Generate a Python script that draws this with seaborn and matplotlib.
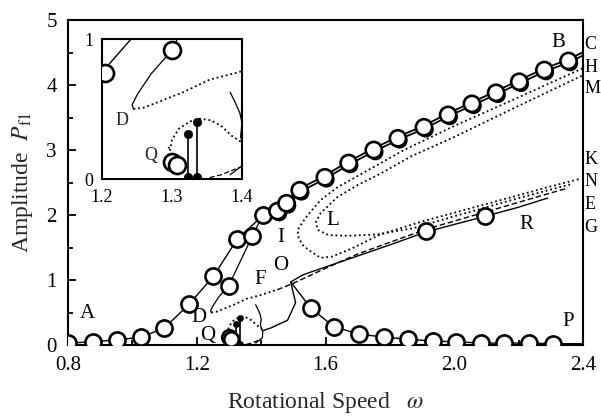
import numpy as np
import pandas as pd
import matplotlib
matplotlib.use("Agg")
import matplotlib.pyplot as plt
import matplotlib.patheffects as pe
from matplotlib.ticker import MultipleLocator, FixedLocator
import seaborn as sns

# ---------------- data: rotational speed (omega) vs amplitude P_f1 ----------------
# resonance branch starting at A (open circles)
a_w = [0.80, 0.878, 0.953, 1.027, 1.099, 1.177, 1.252, 1.326, 1.407]
a_y = [0.03, 0.05, 0.08, 0.12, 0.26, 0.63, 1.06, 1.63, 2.00]
# branch rising from the turning point D
d_line_w = [1.245, 1.243, 1.25, 1.27, 1.30, 1.373, 1.395, 1.407]
d_line_y = [0.50, 0.53, 0.60, 0.75, 0.92, 1.68, 1.90, 2.00]
d_circ_w = [1.30, 1.373]
d_circ_y = [0.91, 1.68]
# upper branch towards B (line C)
b_w = [1.451, 1.479, 1.52, 1.598, 1.672, 1.75, 1.825, 1.906, 1.981, 2.055, 2.13, 2.202, 2.28, 2.355]
b_y = [2.06, 2.18, 2.38, 2.58, 2.80, 3.00, 3.18, 3.35, 3.54, 3.71, 3.88, 4.05, 4.23, 4.37]
c_w = [1.407] + b_w + [2.40]
c_y = [2.00] + b_y + [4.48]
# curve through turning point I: from K (lower) to H (upper)
i_w = [2.386, 2.30, 2.10, 1.90, 1.77, 1.68, 1.62, 1.585, 1.56, 1.532, 1.517, 1.513, 1.529, 1.545, 1.585,
       1.638, 1.70, 1.772, 1.844, 2.00, 2.20, 2.40]
i_y = [2.55, 2.44, 2.17, 1.90, 1.70, 1.48, 1.36, 1.34, 1.42, 1.52, 1.64, 1.77, 1.89, 2.00, 2.23,
       2.43, 2.60, 2.80, 3.00, 3.37, 3.81, 4.26]
# curve through turning point L: from N (lower) to M (upper)
l_w = [2.36, 2.20, 2.00, 1.875, 1.76, 1.669, 1.61, 1.576, 1.57, 1.585, 1.638, 1.70, 1.772, 1.865,
       2.00, 2.20, 2.40]
l_y = [2.47, 2.26, 1.98, 1.80, 1.70, 1.68, 1.69, 1.77, 1.89, 2.03, 2.28, 2.46, 2.64, 2.90,
       3.20, 3.68, 4.15]
# curve from D through F towards E
e_w = [1.245, 1.26, 1.316, 1.354, 1.393, 1.45, 1.50, 1.60, 1.70, 1.80, 1.912, 2.10, 2.30, 2.35]
e_y = [0.50, 0.51, 0.62, 0.71, 0.76, 0.85, 0.95, 1.18, 1.40, 1.58, 1.78, 2.05, 2.34, 2.41]
# curve rising from the cusp through O towards G, with circles R
g_w = [1.405, 1.429, 1.482, 1.507, 1.492, 1.53, 1.60, 1.70, 1.80, 1.912, 2.096, 2.20, 2.29]
g_y = [0.22, 0.26, 0.38, 0.65, 0.97, 1.08, 1.20, 1.37, 1.54, 1.74, 1.98, 2.12, 2.26]
r_w = [1.912, 2.096]
r_y = [1.75, 1.98]
# decaying branch towards P
p_line_w = [1.492, 1.554, 1.626, 1.703, 1.781, 1.856, 1.934, 2.006, 2.083, 2.155, 2.233, 2.308, 2.40]
p_line_y = [0.97, 0.57, 0.28, 0.17, 0.12, 0.09, 0.06, 0.05, 0.03, 0.03, 0.03, 0.02, 0.02]
p_w = [1.554, 1.626, 1.703, 1.781, 1.856, 1.934, 2.006, 2.083, 2.155, 2.233, 2.308]
p_y = [0.57, 0.28, 0.17, 0.12, 0.09, 0.06, 0.05, 0.03, 0.03, 0.03, 0.02]
# solid loop below F
s_w = [1.383, 1.39, 1.397, 1.40, 1.398, 1.405, 1.404, 1.383]
s_y = [0.62, 0.55, 0.47, 0.40, 0.30, 0.20, 0.11, 0.03]
# dotted curve around Q
q_w = [1.295, 1.297, 1.30, 1.31, 1.325, 1.34, 1.355, 1.37, 1.385, 1.40, 1.405]
q_y = [0.23, 0.20, 0.28, 0.36, 0.41, 0.43, 0.42, 0.38, 0.31, 0.26, 0.22]
q_circ_w = [1.30, 1.307]
q_circ_y = [0.12, 0.10]
# dashed piece near the baseline
z_w = [1.354, 1.37, 1.39, 1.40]
z_y = [0.01, 0.03, 0.07, 0.09]
# peak amplitudes marked by filled dots on stems
stem_w = [1.323, 1.335]
stem_y = [0.32, 0.41]
# circles shown in the enlarged view
ins_circ_w = [1.204, 1.30, 1.30, 1.307]
ins_circ_y = [0.76, 0.92, 0.12, 0.10]

x_ticks = [0.8, 1.2, 1.6, 2.0, 2.4]
y_ticks = [0, 1, 2, 3, 4, 5]
ins_x_ticks = [1.2, 1.3, 1.4]
ins_y_ticks = [0, 1]

# ---------------- style ----------------
sns.set_theme(style="white")
plt.rcParams.update({
    "font.family": ["Liberation Serif", "DejaVu Serif"],
    "mathtext.fontset": "stix",
    "axes.edgecolor": "black",
    "axes.linewidth": 1.5,
    "xtick.color": "black",
    "ytick.color": "black",
})

DOT = (0, (1.0, 1.6))
DASH = (0, (4, 2))


def curve(ax, w, y, ls="-", lw=1.0, double=False, z=2):
    df = pd.DataFrame({"w": w, "y": y})
    sns.lineplot(data=df, x="w", y="y", sort=False, estimator=None, ax=ax,
                 color="black", linestyle=ls, linewidth=lw, zorder=z)
    line = ax.lines[-1]
    if double:
        line.set_color("white")
        line.set_linewidth(0.8)
        line.set_path_effects([pe.Stroke(linewidth=3.4, foreground="black"), pe.Normal()])


def circles(ax, w, y, shadow=False, s=135):
    df = pd.DataFrame({"w": w, "y": y})
    sns.scatterplot(data=df, x="w", y="y", ax=ax, marker="o", s=s, color="white",
                    edgecolor="black", linewidth=1.9, zorder=6)
    if shadow:
        ax.collections[-1].set_path_effects(
            [pe.SimplePatchShadow(offset=(1.2, -1.6), shadow_rgbFace="black", alpha=1.0), pe.Normal()])


def stems(ax, w, y, ms=5.5):
    for wi, yi in zip(w, y):
        ax.vlines(wi, 0, yi, color="black", lw=1.2, zorder=4)
    df = pd.DataFrame({"w": list(w) + list(w), "y": list(y) + [0.015] * len(w)})
    sns.scatterplot(data=df, x="w", y="y", ax=ax, marker="o", s=ms ** 2, color="black",
                    edgecolor="black", zorder=5)


def draw_curves(ax):
    curve(ax, a_w, a_y, "-", 1.0)
    curve(ax, d_line_w, d_line_y, "-", 0.9)
    curve(ax, c_w, c_y, "-", 1.0, double=True)
    curve(ax, i_w, i_y, DOT, 1.3)
    curve(ax, l_w, l_y, DOT, 1.3)
    curve(ax, e_w[:6], e_y[:6], DOT, 1.3)
    curve(ax, e_w[5:], e_y[5:], DASH, 1.0)
    curve(ax, g_w, g_y, "-", 1.0)
    curve(ax, p_line_w, p_line_y, "-", 1.0)
    curve(ax, s_w, s_y, "-", 0.9)
    curve(ax, q_w, q_y, DOT, 1.3)
    curve(ax, z_w, z_y, DASH, 0.9)


fig = plt.figure(figsize=(6.01, 4.16), dpi=100)
ax = fig.add_axes([68 / 601, 71 / 416, 515 / 601, 325 / 416])

draw_curves(ax)
curve(ax, [1.90, 2.40], [0.012, 0.012], "-", 0.8)
circles(ax, a_w, a_y)
circles(ax, d_circ_w, d_circ_y)
circles(ax, b_w, b_y, shadow=True)
circles(ax, r_w, r_y)
circles(ax, p_w, p_y)
circles(ax, q_circ_w, q_circ_y, s=110)
stems(ax, stem_w, stem_y, ms=4.5)

ax.set_xlim(0.8, 2.4)
ax.set_ylim(0, 5)
ax.xaxis.set_major_locator(FixedLocator(x_ticks))
ax.xaxis.set_minor_locator(MultipleLocator(0.2))
ax.yaxis.set_major_locator(FixedLocator(y_ticks))
ax.yaxis.set_minor_locator(MultipleLocator(0.5))
ax.set_xticklabels([f"{v:.1f}" for v in x_ticks])
ax.set_yticklabels([str(v) for v in y_ticks])
ax.tick_params(which="both", direction="in", top=False, right=False, bottom=True, left=True,
               labelsize=15, width=1.3)
ax.tick_params(axis="x", pad=8)
ax.tick_params(axis="y", pad=8)
ax.tick_params(which="major", length=6)
ax.tick_params(which="minor", length=3.5)
ax.set_xlabel(r"Rotational Speed   $\omega$", fontsize=17, labelpad=11)
ax.set_ylabel(r"Amplitude  $P_{\mathrm{f1}}$", fontsize=17, labelpad=8)

# branch labels
lab = dict(fontsize=15, color="black", ha="center", va="center")
ax.text(0.86, 0.49, "A", **lab)
ax.text(2.323, 4.66, "B", **lab)
ax.text(1.208, 0.42, "D", **lab)
ax.text(1.233, 0.15, "Q", **lab)
ax.text(1.398, 1.00, "F", **lab)
ax.text(1.46, 1.65, "I", **lab)
ax.text(1.622, 1.92, "L", **lab)
ax.text(1.46, 1.22, "O", **lab)
ax.text(2.224, 1.85, "R", **lab)
ax.text(2.355, 0.36, "P", **lab)
side = dict(fontsize=13, color="black", ha="left", va="center", clip_on=False)
for name, yv in zip(["C", "H", "M", "K", "N", "E", "G"],
                    [4.62, 4.27, 3.95, 2.85, 2.51, 2.16, 1.80]):
    ax.text(2.404, yv, name, **side)

# enlarged view of the region around Q
ins = fig.add_axes([102 / 601, 237 / 416, 140 / 601, 140 / 416])
ins.set_facecolor("white")
draw_curves(ins)
circles(ins, ins_circ_w, ins_circ_y, s=150)
stems(ins, stem_w, stem_y, ms=6)
ins.set_xlim(1.2, 1.4)
ins.set_ylim(0, 1)
ins.xaxis.set_major_locator(FixedLocator(ins_x_ticks))
ins.xaxis.set_minor_locator(MultipleLocator(0.05))
ins.yaxis.set_major_locator(FixedLocator(ins_y_ticks))
ins.yaxis.set_minor_locator(MultipleLocator(0.5))
ins.set_xticklabels([f"{v:.1f}" for v in ins_x_ticks])
ins.set_yticklabels([str(v) for v in ins_y_ticks])
ins.tick_params(which="both", direction="in", top=False, right=False, labelsize=13, width=1.2)
ins.tick_params(axis="x", pad=7)
ins.tick_params(axis="y", pad=6)
ins.tick_params(which="major", length=5)
ins.tick_params(which="minor", length=3)
ins.set_xlabel("")
ins.set_ylabel("")
ins.text(1.229, 0.42, "D", fontsize=13, ha="center", va="center")
ins.text(1.269, 0.17, "Q", fontsize=13, ha="center", va="center")

fig.savefig("out.png", dpi=100, facecolor="white")
